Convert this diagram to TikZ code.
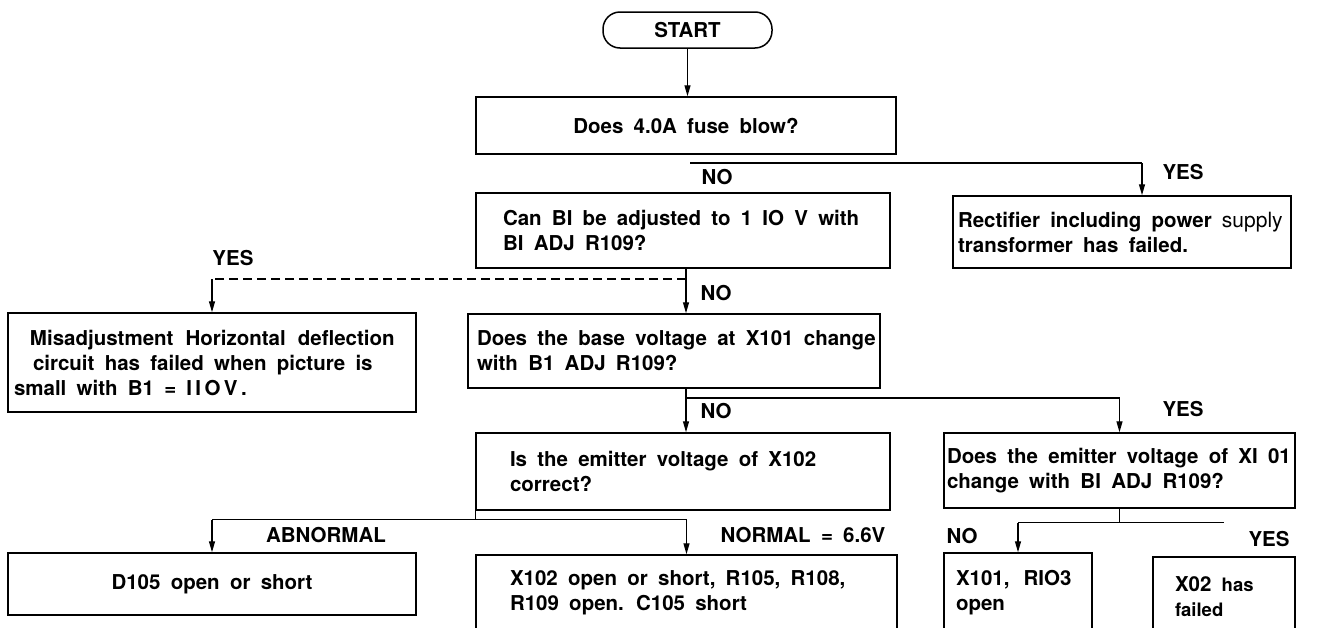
\documentclass[tikz,border=0pt]{standalone}
\usepackage{fontspec}
\setmainfont{TeX Gyre Heros}[WordSpace=1.8]
\usetikzlibrary{arrows.meta,calc}
\begin{document}
\begin{tikzpicture}[x=1pt,y=-1pt,
  every node/.style={font=\fontsize{20.5}{25}\selectfont\bfseries},
  box/.style={draw, line width=1.5pt, align=flush left, inner sep=2pt},
  arr/.style={line width=1.3pt, -{Triangle[length=11pt,width=6pt]}},
  conn/.style={line width=1.3pt},
  lbl/.style={inner sep=0pt}]
\useasboundingbox (0,0) rectangle (1334,627);

% boxes
\node[box, rounded corners=17pt, minimum width=169pt, minimum height=36pt, align=center] (start) at (687.5,30) {START};
\node[box, minimum width=420pt, minimum height=57pt, align=center] (fuse) at (686,125.5) {Does 4.0A fuse blow?};
\node[box, minimum width=414pt, minimum height=75pt, text width=360pt] (canbi) at (683,230.5)
  {\mbox{Can BI be adjusted to 1 IO V with}\\BI ADJ R109?};
\node[box, minimum width=338pt, minimum height=72pt, text width=328pt] (rect) at (1122,232)
  {\mbox{Rectifier including power {\mdseries\fontsize{21}{25}\selectfont supply}}\\transformer has failed.};
\node[box, minimum width=408pt, minimum height=99pt, text width=396pt] (misadj) at (212,362.5)
  {\mbox{\hspace*{16pt}Misadjustment\hspace{12pt}Horizontal\hspace{12pt}deflection}\\\mbox{\hspace*{19pt}circuit has failed when picture is}\\small with B1 =\hspace{10pt}I\,I\,O\,V\,.};
\node[box, minimum width=412pt, minimum height=74pt, text width=394pt] (base) at (674,351)
  {\mbox{Does the base voltage at X101 change}\\with B1 ADJ R109?};
\node[box, minimum width=414pt, minimum height=77pt, text width=346pt] (emit) at (683,471.5)
  {\mbox{Is the emitter voltage of X102}\\correct?};
\node[box, minimum width=351pt, minimum height=75pt, text width=345pt] (emit2) at (1119.5,470.5)
  {\mbox{Does the emitter voltage of XI 01}\\change with BI ADJ R109?};
\node[box, minimum width=408pt, minimum height=62pt, align=center] (d105) at (212,584) {D105 open or short};
\node[box, minimum width=421pt, minimum height=75pt, text width=353pt] (x102) at (686.5,592.5)
  {\mbox{X102 open or short, R105, R108,}\\R109 open. C105 short};
\node[box, minimum width=148pt, minimum height=79pt, text width=124pt] (x101) at (1018,592.5)
  {\mbox{X101,\hspace{14pt}RIO3}\\open};
\node[box, minimum width=142pt, minimum height=79pt, text width=98pt] (x02) at (1224,596.5)
  {\mbox{X02 {\fontsize{18.5}{25}\selectfont has}}\\{\fontsize{18.5}{25}\selectfont failed}};

% labels
\node[lbl] (lno1) at (717,177) {NO};
\node[lbl] (lyes1) at (1183,172) {YES};
\node[lbl] (lno2) at (716,293) {NO};
\node[lbl] (lyes2) at (233,258) {YES};
\node[lbl] (lno3) at (716,411) {NO};
\node[lbl] (lyes3) at (1183,409) {YES};
\node[lbl] (labn) at (326,535) {ABNORMAL};
\node[lbl] (lnorm) at (803,535) {NORMAL = 6.6V};
\node[lbl] (lno4) at (962,536) {NO};
\node[lbl] (lyes4) at (1269,539) {YES};

% helper coordinates
\coordinate (colA) at (686,0);
\coordinate (fj) at (690,163);
\coordinate (fy) at (1142,163);
\coordinate (dj) at (686,279);
\coordinate (bj) at (686,398);
\coordinate (ej) at ($(emit.south west)+(0,9)$);
\coordinate (sj) at ($(emit2.south)+(0,14)$);

% connectors
\draw[arr] (start.south) -- (start.south |- fuse.north);
\draw[conn] (fj) -- (fy);
\draw[arr] (fy) -- (fy |- rect.north);
\draw[arr] (canbi.south -| colA) -- (base.north -| colA);
\draw[conn, dash pattern=on 9pt off 5pt] (dj) -- (dj -| misadj.north);
\draw[arr] (dj -| misadj.north) -- (misadj.north);
\draw[arr] (base.south -| colA) -- (emit.north -| colA);
\draw[arr] (bj) -| (emit2.north);
\draw[conn] (emit.south west) -- (ej);
\draw[conn] (ej -| d105.north) -- (ej -| x102.north);
\draw[arr] (ej -| d105.north) -- (d105.north);
\draw[arr] (ej -| x102.north) -- (x102.north);
\draw[line width=0.8pt] (emit2.south) -- (sj);
\draw[conn] (sj -| x101.north) -- (sj -| x02.north);
\draw[arr] (sj -| x101.north) -- (x101.north);
\end{tikzpicture}
\end{document}
